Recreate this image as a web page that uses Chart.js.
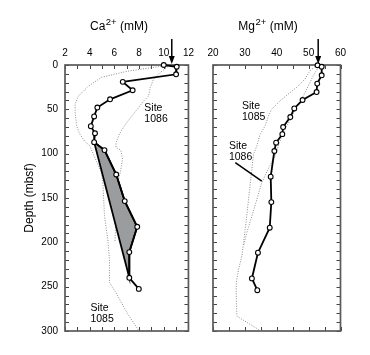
<!DOCTYPE html>
<html>
<head>
<meta charset="utf-8">
<script src="https://cdn.jsdelivr.net/npm/chart.js@4.4.1/dist/chart.umd.min.js"></script>
<style>
  html, body { margin: 0; padding: 0; background: #fff; }
  #wrap { position: relative; width: 370px; height: 355px; }
  canvas { position: absolute; top: 0; }
  #ca { left: 0; }
  #mg { left: 200px; }
</style>
</head>
<body>
<div id="wrap">
  <canvas id="ca" width="200" height="355"></canvas>
  <canvas id="mg" width="170" height="355"></canvas>
</div>
<script>
// ---------- data ----------
const depthTicks = [0, 50, 100, 150, 200, 250, 300];
const caTicks = [2, 4, 6, 8, 10, 12];
const mgTicks = [20, 30, 40, 50, 60];

// Ca2+ profile (black line with circles)
const caDepth = [0, 2, 10.5, 19, 28.5, 38.7, 48, 58, 69, 77, 87, 96, 123.5, 153.5, 182.5, 211, 240, 252.5];
const caValue = [10.0, 11.05, 11.0, 6.68, 7.48, 5.65, 4.62, 4.36, 4.09, 4.43, 4.36, 5.2, 6.15, 6.84, 7.85, 7.21, 7.21, 7.98];

// shaded region (outline through the profile and a straight edge)
const caShadeDepth = [87, 96, 123.5, 153.5, 182.5, 211, 240, 87];
const caShadeValue = [4.36, 5.2, 6.15, 6.84, 7.85, 7.21, 7.21, 4.36];

// Site 1085 Ca (dotted)
const ca1085Depth = [1, 7, 14, 24, 35, 44, 54, 69, 78, 86, 91, 100, 121, 133, 170, 197, 219, 245, 257, 280, 300];
const ca1085Value = [10.0, 7.05, 4.94, 3.88, 3.09, 2.82, 2.82, 2.95, 3.2, 3.6, 4.0, 4.28, 4.94, 5.07, 5.2, 5.47, 5.6, 5.6, 6.13, 7.05, 8.0];

// Site 1086 Ca (dotted)
const ca1086Depth = [0, 8.6, 16, 25.5, 35, 40.6, 50, 59.4, 69, 78, 88, 93, 96, 106, 120, 133, 170, 200];
const ca1086Value = [10.5, 9.7, 9.17, 8.9, 8.77, 8.37, 7.85, 7.3, 6.8, 6.4, 6.13, 6.13, 6.52, 6.66, 6.5, 6.26, 6.13, 6.05];

// Mg2+ profile (black line with circles)
const mgDepth = [0.3, 2, 11.6, 21, 30.5, 39.5, 49, 58.7, 70, 78, 87.6, 97, 126, 154.6, 183.5, 211.7, 240.7, 254];
const mgValue = [52.8, 54.1, 54.1, 52.7, 52.5, 48.1, 45.5, 44.25, 42, 41.75, 39.8, 39.25, 38.1, 38.3, 37.8, 34.1, 32.2, 33.9];

// Site 1085 Mg (dotted)
const mg1085Depth = [0, 6.8, 16, 23.7, 31, 40.6, 50, 57.5, 69, 78, 91, 101, 133, 170, 200, 215.6, 230.6, 245.6, 264.4, 283.3, 300];
const mg1085Value = [52.5, 50.4, 48.8, 46.75, 44.2, 41, 38.4, 37.4, 36.3, 34.8, 33.75, 32.7, 31.7, 30.6, 29.6, 29.06, 28, 27.3, 27.3, 27.5, 35.0];

// Site 1086 Mg (dotted)
const mg1086Depth = [0, 12.4, 23.7, 35, 44.4, 50, 59.4, 69, 80, 91.4, 102.7, 106.4, 118, 132.7, 151.6, 170.4, 189, 204];
const mg1086Value = [53.5, 51.4, 49.9, 48.3, 46.75, 45.7, 44.7, 43.1, 41.6, 40.5, 39.5, 38.9, 37.2, 35.3, 33.75, 32.2, 30.6, 29.6];

// ---------- helpers ----------
const FONT = "'Liberation Sans', Arial, Helvetica, sans-serif";
const pts = (xs, ys) => xs.map((v, i) => ({ x: v, y: ys[i] }));

function profileDataset(xs, ys) {
  return {
    data: pts(xs, ys), showLine: true, borderColor: '#000', borderWidth: 1.8,
    pointRadius: 2.4, pointBackgroundColor: '#fff', pointBorderColor: '#000',
    pointBorderWidth: 1.1, clip: false, order: 0
  };
}
function dottedDataset(xs, ys) {
  return {
    data: pts(xs, ys), showLine: true, borderColor: '#8c8c8c', borderWidth: 1,
    borderDash: [1, 1.5], pointRadius: 0, clip: false, order: 2
  };
}

const framePlugin = {
  id: 'frame',
  beforeDatasetsDraw(chart, args, o) {
    const { ctx, chartArea: a, scales: { x, y } } = chart;
    ctx.save();
    ctx.strokeStyle = '#444';
    ctx.lineWidth = 1;
    const tl = 4;
    ctx.beginPath();
    for (let v = x.min; v <= x.max + 1e-9; v += o.xMinor) {
      const p = Math.round(x.getPixelForValue(v)) + 0.5;
      ctx.moveTo(p, a.top); ctx.lineTo(p, a.top + tl);
      ctx.moveTo(p, a.bottom); ctx.lineTo(p, a.bottom - tl);
    }
    for (let v = y.min; v <= y.max + 1e-9; v += o.yMinor) {
      const p = Math.round(y.getPixelForValue(v)) + 0.5;
      ctx.moveTo(a.left, p); ctx.lineTo(a.left + tl, p);
      ctx.moveTo(a.right, p); ctx.lineTo(a.right - tl, p);
    }
    ctx.stroke();
    ctx.strokeStyle = '#5a5a5a';
    ctx.lineWidth = 1.7;
    ctx.strokeRect(a.left, a.top, a.right - a.left, a.bottom - a.top);
    ctx.restore();
  },
  afterDatasetsDraw(chart, args, o) {
    const { ctx, chartArea: a, scales: { x, y } } = chart;
    ctx.save();
    // title with superscript
    const cx = (a.left + a.right) / 2 + o.titleDx;
    const ty = 27;
    const f1 = '12px ' + FONT, f2 = '9.5px ' + FONT;
    ctx.font = f1; const w1 = ctx.measureText(o.titleBase).width;
    const w3 = ctx.measureText(o.titleRest).width;
    ctx.font = f2; const w2 = ctx.measureText(o.titleSup).width;
    let sx = cx - (w1 + w2 + w3) / 2;
    ctx.fillStyle = '#000';
    ctx.textBaseline = 'middle';
    ctx.textAlign = 'left';
    ctx.font = f1; ctx.fillText(o.titleBase, sx, ty);
    ctx.font = f2; ctx.fillText(o.titleSup, sx + w1 + 0.5, ty - 4.5);
    ctx.font = f1; ctx.fillText(o.titleRest, sx + w1 + w2 + 0.5, ty);
    // site labels
    ctx.font = '10.5px ' + FONT;
    o.labels.forEach(l => {
      const px = x.getPixelForValue(l.x), py = y.getPixelForValue(l.y);
      ctx.fillText(l.lines[0], px, py);
      ctx.fillText(l.lines[1], px, py + 11.5);
    });
    // leader lines
    ctx.strokeStyle = '#000';
    ctx.lineWidth = 1.5;
    (o.leaders || []).forEach(s => {
      ctx.beginPath();
      ctx.moveTo(x.getPixelForValue(s[0]), y.getPixelForValue(s[1]));
      ctx.lineTo(x.getPixelForValue(s[2]), y.getPixelForValue(s[3]));
      ctx.stroke();
    });
    // arrow
    const ax = x.getPixelForValue(o.arrowAt);
    ctx.beginPath();
    ctx.moveTo(ax, a.top - 26); ctx.lineTo(ax, a.top - 7);
    ctx.stroke();
    ctx.fillStyle = '#000';
    ctx.beginPath();
    ctx.moveTo(ax - 3, a.top - 9); ctx.lineTo(ax + 3, a.top - 9); ctx.lineTo(ax, a.top - 1);
    ctx.closePath(); ctx.fill();
    ctx.restore();
  }
};

function baseScales(xTicks, xMin, xMax, showY) {
  return {
    x: {
      type: 'linear', position: 'top', min: xMin, max: xMax,
      grid: { display: false, drawTicks: false }, border: { display: false },
      ticks: { padding: 6, color: '#000', font: { size: 10, family: FONT } },
      afterBuildTicks: s => { s.ticks = xTicks.map(v => ({ value: v })); },
      afterFit: s => { s.height = 65; }
    },
    y: {
      type: 'linear', reverse: true, min: 0, max: 300,
      grid: { display: false, drawTicks: false }, border: { display: false },
      ticks: { display: showY, padding: 7, color: '#000', font: { size: 10, family: FONT } },
      afterBuildTicks: s => { s.ticks = depthTicks.map(v => ({ value: v })); },
      title: { display: showY, text: 'Depth (mbsf)', color: '#000', padding: { top: 22, bottom: 0 }, font: { size: 12, family: FONT } },
      afterFit: s => { s.width = showY ? 65 : 13; }
    }
  };
}

new Chart(document.getElementById('ca'), {
  type: 'scatter',
  data: {
    datasets: [
      profileDataset(caValue, caDepth),
      {
        data: pts(caShadeValue, caShadeDepth), showLine: true, fill: 'shape',
        backgroundColor: '#9a9c9e', borderColor: '#000', borderWidth: 1.8,
        pointRadius: 0, clip: false, order: 1
      },
      dottedDataset(ca1085Value, ca1085Depth),
      dottedDataset(ca1086Value, ca1086Depth)
    ]
  },
  options: {
    responsive: false, animation: false, devicePixelRatio: 1,
    layout: { padding: { left: 0, top: 0, right: 9, bottom: 24 } },
    plugins: {
      legend: { display: false }, tooltip: { enabled: false },
      frame: {
        xMinor: 1, yMinor: 10, titleDx: -8,
        titleBase: 'Ca', titleSup: '2+', titleRest: ' (mM)',
        arrowAt: 10.65,
        labels: [
          { x: 8.43, y: 48.5, lines: ['Site', '1086'] },
          { x: 4.06, y: 274, lines: ['Site', '1085'] }
        ]
      }
    },
    scales: baseScales(caTicks, 2, 12, true)
  },
  plugins: [framePlugin]
});

new Chart(document.getElementById('mg'), {
  type: 'scatter',
  data: {
    datasets: [
      profileDataset(mgValue, mgDepth),
      dottedDataset(mg1085Value, mg1085Depth),
      dottedDataset(mg1086Value, mg1086Depth)
    ]
  },
  options: {
    responsive: false, animation: false, devicePixelRatio: 1,
    layout: { padding: { left: 0, top: 0, right: 29.5, bottom: 24 } },
    plugins: {
      legend: { display: false }, tooltip: { enabled: false },
      frame: {
        xMinor: 5, yMinor: 10, titleDx: -9,
        titleBase: 'Mg', titleSup: '2+', titleRest: ' (mM)',
        arrowAt: 53,
        labels: [
          { x: 29.1, y: 46, lines: ['Site', '1085'] },
          { x: 25.0, y: 91, lines: ['Site', '1086'] }
        ],
        leaders: [[27, 110, 35.3, 131]]
      }
    },
    scales: baseScales(mgTicks, 20, 60, false)
  },
  plugins: [framePlugin]
});
</script>
</body>
</html>
